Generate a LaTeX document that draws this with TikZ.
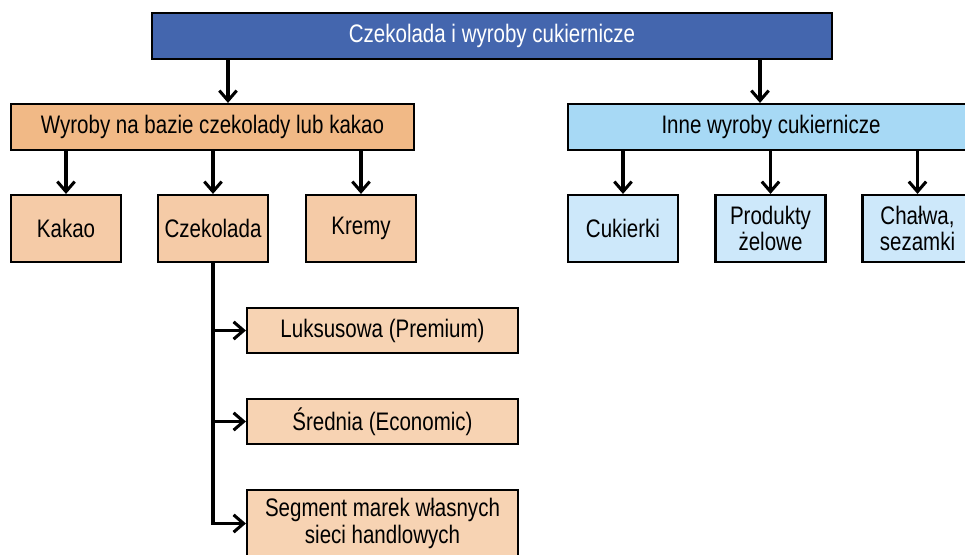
\documentclass[tikz,border=0pt]{standalone}
\usepackage{fontspec}
\setmainfont{Liberation Sans}[FakeStretch=0.81]
\usetikzlibrary{arrows.meta}
\definecolor{topblue}{HTML}{4466AE}
\definecolor{orhead}{HTML}{F1B986}
\definecolor{orchild}{HTML}{F5CBA7}
\definecolor{orsub}{HTML}{F7D3B3}
\definecolor{blhead}{HTML}{A7D9F5}
\definecolor{blchild}{HTML}{CDE8FA}
\tikzset{
  box/.style={draw=black, line width=1.6pt, inner sep=0pt, align=center,
    font=\fontsize{19}{20}\selectfont},
  child/.style={box, minimum width=82.5pt, minimum height=50.25pt},
  sub/.style={box, fill=orsub, minimum width=203.25pt},
  arr/.style={line width=2.3pt, -{Straight Barb[length=7.5pt,width=13pt,line width=2.3pt]}},
}
\begin{document}
\begin{tikzpicture}[x=0.75pt,y=-0.75pt]
\useasboundingbox (0,0) rectangle (965,554);
\clip (0,0) rectangle (965,554);
\fill[white] (0,0) rectangle (965,554);

\node[box, fill=topblue, text=white, minimum width=510pt, minimum height=34.5pt] (top) at (492,36) {Czekolada i wyroby cukiernicze};
\node[box, fill=orhead, minimum width=302.25pt, minimum height=34.5pt] (oh) at (212.5,127) {Wyroby na bazie czekolady lub kakao};
\node[box, fill=blhead, minimum width=304.5pt, minimum height=34.5pt] (bh) at (771,127) {Inne wyroby cukiernicze};

\node[child, fill=orchild] (kakao) at (66,228.5) {Kakao};
\node[child, fill=orchild] (czek) at (213,228.5) {Czekolada};
\node[child, fill=orchild] (kremy) at (361,228.5) {Kremy};
\node[child, fill=blchild] (cuk) at (623,228.5) {Cukierki};
\node[child, fill=blchild] (prod) at (770.5,228.5) {Produkty\\żelowe};
\node[child, fill=blchild] (chal) at (917.5,228.5) {Chałwa,\\sezamki};

\node[sub, minimum height=33.75pt] (s1) at (382.5,330.5) {Luksusowa (Premium)};
\node[sub, minimum height=33.75pt] (s2) at (382.5,421.5) {Średnia (Economic)};
\node[sub, minimum height=50.25pt] (s3) at (382.5,523.5) {Segment marek własnych\\sieci handlowych};

\coordinate (a1) at (228,0);
\coordinate (a2) at (760,0);
\draw[arr] (top.south -| a1) -- (oh.north -| a1);
\draw[arr] (top.south -| a2) -- (bh.north -| a2);

\draw[arr] (oh.south -| kakao) -- (kakao.north);
\draw[arr] (oh.south -| czek) -- (czek.north);
\draw[arr] (oh.south -| kremy) -- (kremy.north);
\draw[arr] (bh.south -| cuk) -- (cuk.north);
\draw[arr] (bh.south -| prod) -- (prod.north);
\draw[arr] (bh.south -| chal) -- (chal.north);

\draw[arr] (czek.south) |- (s1.west);
\draw[arr] (czek.south) |- (s2.west);
\draw[arr] (czek.south) |- (s3.west);
\end{tikzpicture}
\end{document}
